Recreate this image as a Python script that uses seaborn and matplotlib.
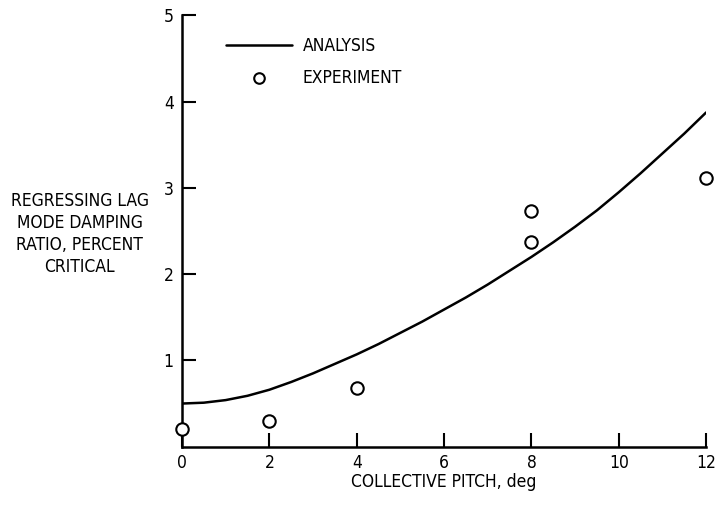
import numpy as np
import pandas as pd
import seaborn as sns
import matplotlib.pyplot as plt

# analysis curve
pitch_curve = [0, 0.5, 1, 1.5, 2, 2.5, 3, 3.5, 4, 4.5, 5, 5.5, 6, 6.5, 7, 7.5,
               8, 8.5, 9, 9.5, 10, 10.5, 11, 11.5, 12]
damping_curve = [0.50, 0.51, 0.54, 0.59, 0.66, 0.75, 0.85, 0.96, 1.07, 1.19, 1.32,
                 1.45, 1.59, 1.73, 1.88, 2.04, 2.20, 2.37, 2.55, 2.74, 2.95, 3.17,
                 3.40, 3.63, 3.875]

# experiment points
pitch_exp = [0, 2, 4, 8, 8, 12]
damping_exp = [0.21, 0.30, 0.68, 2.37, 2.73, 3.11]

xticks = [0, 2, 4, 6, 8, 10, 12]
yticks = [1, 2, 3, 4, 5]

sns.set_style("ticks")
plt.rcParams['font.family'] = ['DejaVu Sans Condensed', 'DejaVu Sans']
plt.rcParams['font.stretch'] = 'condensed'
for key in ['text.color', 'axes.labelcolor', 'xtick.color', 'ytick.color', 'axes.edgecolor']:
    plt.rcParams[key] = 'black'

curve = pd.DataFrame({'pitch': pitch_curve, 'damping': damping_curve})
exp = pd.DataFrame({'pitch': pitch_exp, 'damping': damping_exp})

fig = plt.figure(figsize=(7.18, 5.05), dpi=100)
ax = fig.add_axes([0.2535, 0.1155, 0.73, 0.854])

sns.lineplot(data=curve, x='pitch', y='damping', ax=ax, color='black',
             linewidth=1.8, label='ANALYSIS')
sns.scatterplot(data=exp, x='pitch', y='damping', ax=ax, marker='o', s=80,
                facecolor='white', edgecolor='black', linewidth=1.5,
                label='EXPERIMENT', zorder=5, clip_on=False)

ax.set_xlim(0, 12)
ax.set_ylim(0, 5)
ax.set_xticks(xticks)
ax.set_yticks(yticks)
ax.tick_params(direction='in', length=10, width=1.5, labelsize=12.5, pad=6)
ax.tick_params(axis='x', pad=5)
for side in ['top', 'right']:
    ax.spines[side].set_visible(False)
for side in ['left', 'bottom']:
    ax.spines[side].set_linewidth(1.8)

ax.set_xlabel('COLLECTIVE PITCH, deg', fontsize=12.5, labelpad=1)
ax.set_ylabel('')
fig.text(0.111, 0.537, 'REGRESSING LAG\nMODE DAMPING\nRATIO, PERCENT\nCRITICAL',
         ha='center', va='center', fontsize=12.5, linespacing=1.3)

leg = ax.legend(loc='upper left', bbox_to_anchor=(0.055, 0.985), frameon=False,
                fontsize=12.5, handlelength=3.8, handletextpad=0.6, labelspacing=0.75,
                markerscale=0.85)

fig.savefig('out.png', dpi=100)
